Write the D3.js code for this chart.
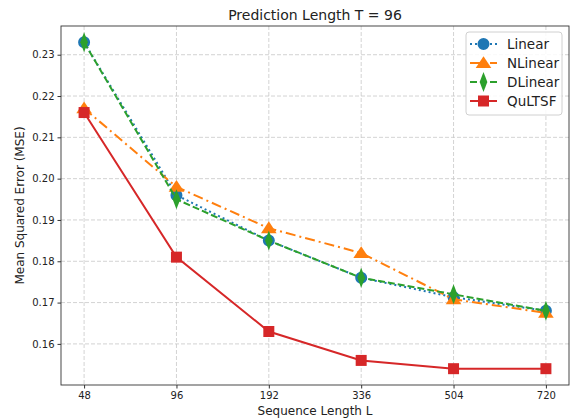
<!DOCTYPE html>
<html>
  <head>
    <meta charset="utf-8" />
    <script src="https://d3js.org/d3.v7.min.js"></script>
    <style>
      body { margin: 0; background: #fff; }
      text { font-family: "DejaVu Sans", sans-serif; fill: #222; }
    </style>
  </head>
  <body>
    <div id="chart"></div>
    <script>
      // data
      var seqLengths = ["48", "96", "192", "336", "504", "720"];
      var linear = [0.233, 0.196, 0.185, 0.176, 0.1713, 0.168];
      var nlinear = [0.217, 0.198, 0.188, 0.182, 0.1708, 0.1675];
      var dlinear = [0.233, 0.195, 0.185, 0.176, 0.172, 0.168];
      var qultsf = [0.216, 0.181, 0.163, 0.156, 0.154, 0.154];
      var yTicks = [0.16, 0.17, 0.18, 0.19, 0.2, 0.21, 0.22, 0.23];

      var series = [
        { name: "Linear", values: linear, color: "#1f77b4", dash: "2,3", marker: "circle" },
        { name: "NLinear", values: nlinear, color: "#ff7f0e", dash: "10,4,2,4", marker: "triangle" },
        { name: "DLinear", values: dlinear, color: "#2ca02c", dash: "7,3", marker: "diamond" },
        { name: "QuLTSF", values: qultsf, color: "#d62728", dash: null, marker: "square" }
      ];

      var width = 572, height = 419;
      var pLeft = 61, pRight = 569, pTop = 26, pBottom = 385;

      var svg = d3.select("#chart").append("svg")
        .attr("width", width)
        .attr("height", height);

      var x = d3.scaleLinear().domain([-0.25, 5.25]).range([pLeft, pRight]);
      var y = d3.scaleLinear().domain([0.15005, 0.23695]).range([pBottom, pTop]);

      // grid
      var grid = svg.append("g");
      grid.selectAll(".gx").data(seqLengths).enter().append("line")
        .attr("x1", function (d, i) { return x(i); })
        .attr("x2", function (d, i) { return x(i); })
        .attr("y1", pTop).attr("y2", pBottom)
        .attr("stroke", "#c8c8c8").attr("stroke-dasharray", "4,2").attr("stroke-width", 0.8);
      grid.selectAll(".gy").data(yTicks).enter().append("line")
        .attr("x1", pLeft).attr("x2", pRight)
        .attr("y1", function (d) { return y(d); })
        .attr("y2", function (d) { return y(d); })
        .attr("stroke", "#c8c8c8").attr("stroke-dasharray", "4,2").attr("stroke-width", 0.8);

      // axes
      var xAxis = d3.axisBottom(x)
        .tickValues(d3.range(seqLengths.length))
        .tickFormat(function (i) { return seqLengths[i]; })
        .tickSize(3.5).tickPadding(3);
      var gx = svg.append("g").attr("transform", "translate(0," + pBottom + ")").call(xAxis);
      var yAxis = d3.axisLeft(y).tickValues(yTicks)
        .tickFormat(d3.format(".2f")).tickSize(3.5).tickPadding(3);
      var gy = svg.append("g").attr("transform", "translate(" + pLeft + ",0)").call(yAxis);
      [gx, gy].forEach(function (g) {
        g.select(".domain").remove();
        g.selectAll("text").style("font-size", "10px").style("fill", "#222");
        g.selectAll("line").attr("stroke", "#333");
      });

      // lines
      var line = d3.line()
        .x(function (d, i) { return x(i); })
        .y(function (d) { return y(d); });

      var symbols = {
        circle: d3.symbol().type(d3.symbolCircle).size(113),
        triangle: d3.symbol().type(d3.symbolTriangle).size(80),
        square: d3.symbol().type(d3.symbolSquare).size(121),
        diamond: d3.symbol().type(d3.symbolDiamond).size(80)
      };

      function drawMarker(g, s, cx, cy) {
        var p = g.append("path")
          .attr("d", symbols[s.marker]())
          .attr("fill", s.color);
        if (s.marker === "diamond") {
          p.attr("transform", "translate(" + cx + "," + cy + ") scale(0.8,1.2)");
        } else if (s.marker === "triangle") {
          p.attr("transform", "translate(" + cx + "," + (cy + 1) + ") scale(1.15,1)");
        } else {
          p.attr("transform", "translate(" + cx + "," + cy + ")");
        }
      }

      series.forEach(function (s) {
        var g = svg.append("g");
        g.append("path")
          .datum(s.values)
          .attr("d", line)
          .attr("fill", "none")
          .attr("stroke", s.color)
          .attr("stroke-width", 2)
          .attr("stroke-dasharray", s.dash);
        s.values.forEach(function (v, i) {
          drawMarker(g, s, x(i), y(v));
        });
      });

      // frame
      svg.append("rect")
        .attr("x", pLeft).attr("y", pTop)
        .attr("width", pRight - pLeft).attr("height", pBottom - pTop)
        .attr("fill", "none").attr("stroke", "#333").attr("stroke-width", 0.9);

      // legend
      var lg = svg.append("g");
      lg.append("rect")
        .attr("x", 466).attr("y", 32).attr("width", 96).attr("height", 83)
        .attr("rx", 3).attr("fill", "#fff").attr("fill-opacity", 0.85)
        .attr("stroke", "#d0d0d0");
      series.forEach(function (s, i) {
        var ly = 44 + i * 19;
        lg.append("line")
          .attr("x1", 470).attr("x2", 497).attr("y1", ly).attr("y2", ly)
          .attr("stroke", s.color).attr("stroke-width", 2)
          .attr("stroke-dasharray", s.dash);
        drawMarker(lg, s, 483.5, ly);
        lg.append("text").attr("x", 507).attr("y", ly + 5)
          .style("font-size", "13.5px").text(s.name);
      });

      // titles
      svg.append("text")
        .attr("x", (pLeft + pRight) / 2).attr("y", 20)
        .attr("text-anchor", "middle").style("font-size", "14px")
        .text("Prediction Length T = 96");
      svg.append("text")
        .attr("x", (pLeft + pRight) / 2).attr("y", 415)
        .attr("text-anchor", "middle").style("font-size", "12px")
        .text("Sequence Length L");
      svg.append("text")
        .attr("transform", "translate(24," + (pTop + pBottom) / 2 + ") rotate(-90)")
        .attr("text-anchor", "middle").style("font-size", "12px")
        .text("Mean Squared Error (MSE)");
    </script>
  </body>
</html>
